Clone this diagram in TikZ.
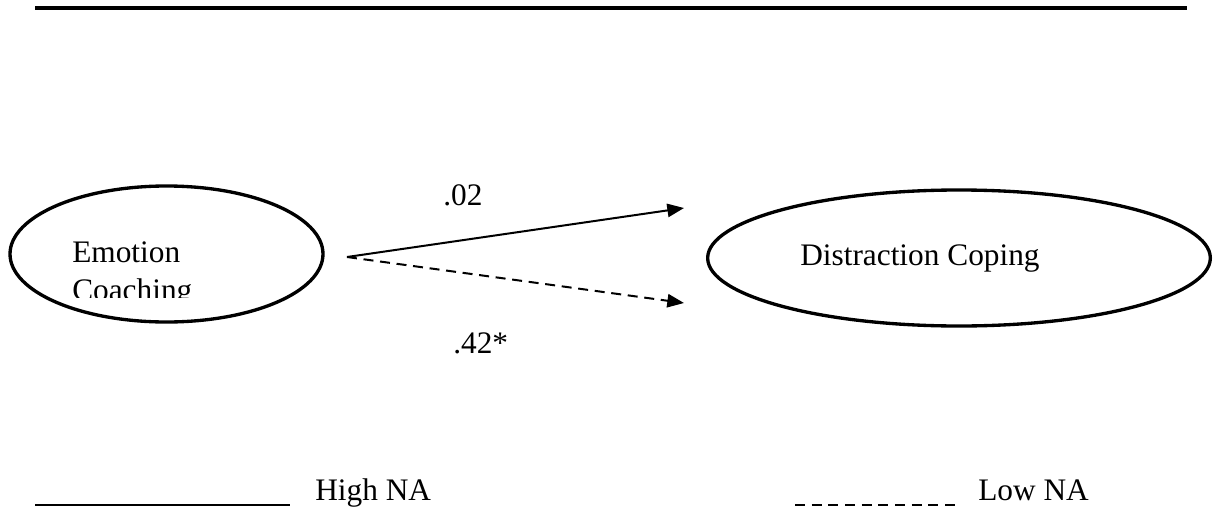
\documentclass[tikz,border=0pt]{standalone}
\usepackage{fontspec}
\setmainfont{Liberation Serif}
\usetikzlibrary{shapes.geometric,arrows.meta}
\begin{document}
\begin{tikzpicture}[x=0.75pt,y=-0.75pt,
  construct/.style={draw,ellipse,line width=2.5pt,inner sep=0pt},
  label/.style={anchor=base west,inner sep=0pt,font=\fontsize{23.5}{28}\selectfont},
  path/.style={line width=1.5pt,-{Triangle[length=12.5pt,width=10pt]}},
  rule/.style={line width=1.1pt}]
\useasboundingbox (0,0) rectangle (1213,510);

% heading rule
\coordinate (ruleL) at (35,8);
\coordinate (ruleR) at (1187,8);
\draw[line width=3pt] (ruleL) -- (ruleR);

% the two constructs
\node[construct,minimum width=234.75pt,minimum height=102pt] (EC) at (166.5,254) {};
\node[construct,minimum width=377pt,minimum height=102pt] (DC) at (959,258) {};

\node[label] (ECa) at (72,262) {Emotion};
\begin{scope}
  \clip (60,272) rectangle (220,297);
  \node[label] (ECb) at (72,300) {Coaching};
\end{scope}
\node[label] (DCt) at (800,265) {Distraction Coping};

% paths for high and low NA
\coordinate (src) at (347,257);
\coordinate (hiTip) at (684,208);
\coordinate (loTip) at (684,303);
\draw[path] (src) -- (hiTip);
\draw[path,dash pattern=on 7.5pt off 5pt] (src) -- (loTip);

\node[label] (b1) at (443,205) {.02};
\node[label] (b2) at (453,353) {.42*};

% legend
\coordinate (hiL) at (35,505);
\coordinate (hiR) at (290,505);
\draw[rule] (hiL) -- (hiR);
\node[label] (hiText) at (315,500) {High NA};
\coordinate (loL) at (795,505);
\coordinate (loR) at (955,505);
\draw[rule,dash pattern=on 7.5pt off 5pt] (loL) -- (loR);
\node[label] (loText) at (978,500) {Low NA};
\end{tikzpicture}
\end{document}
